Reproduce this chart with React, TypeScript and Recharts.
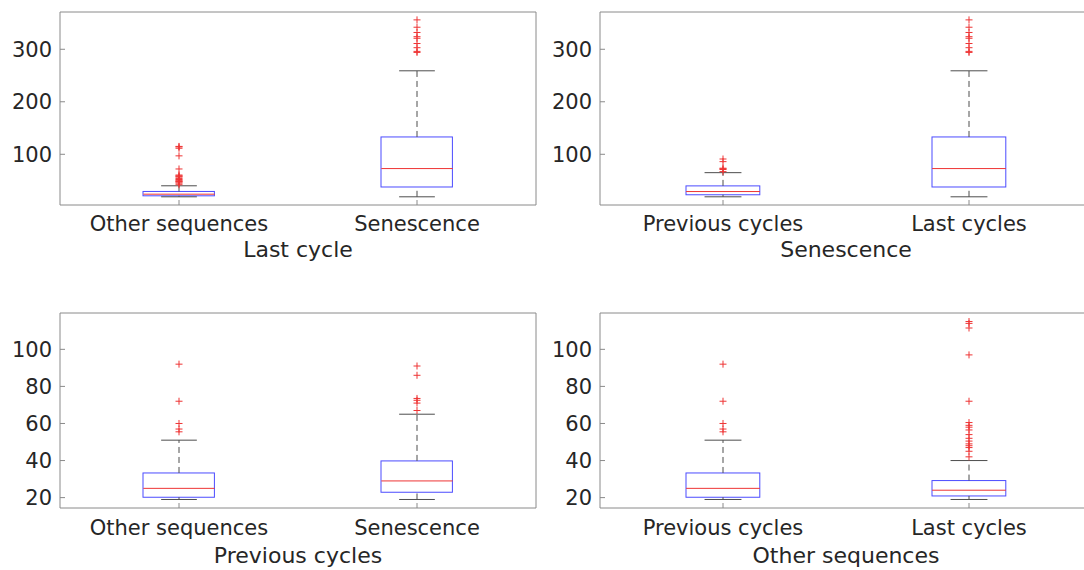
import React from 'react';
import { ComposedChart, Bar, Scatter, XAxis, YAxis, ReferenceLine } from 'recharts';

// box stats: [lower whisker, q1, median, q3, upper whisker]
const otherSeqLastStats = [19, 20.9, 24, 29.2, 40];
const otherSeqLastOutliers = [42, 45, 47, 48, 49, 50.5, 52, 54, 56.5, 58, 59, 60.5, 72, 97, 111.5, 114, 115];
const senescenceLastStats = [19, 37.7, 72.8, 133, 259];
const senescenceLastOutliers = [294, 296, 303, 311, 321, 324, 332, 342, 356];
const senescencePrevStats = [19, 22.9, 29, 39.8, 65];
const senescencePrevOutliers = [67, 71, 72.5, 73.5, 86, 91];
const otherSeqPrevStats = [19, 20.2, 25, 33.3, 51];
const otherSeqPrevOutliers = [55.5, 57, 60, 72, 92];

const byStageGroups = ['Other sequences', 'Senescence'];
const byCycleGroups = ['Previous cycles', 'Last cycles'];

const topTicks = [100, 200, 300];
const bottomTicks = [20, 40, 60, 80, 100];
const topDomain = [3.4, 371];
const bottomDomain = [14.4, 119.6];

const FONT = '"DejaVu Sans", sans-serif';
const TEXT = '#262626';
const AXIS = '#8a8a8a';
const BLUE = '#4b4bff';
const RED = '#ee3434';
const WHISKER = '#4d4d4d';

interface PanelProps {
  title: string;
  groups: string[];
  stats: number[][];
  outliers: number[][];
  domain: number[];
  ticks: number[];
  left: number;
  top: number;
  width: number;
  height: number;
  marginTop: number;
  marginRight: number;
  axisHeight: number;
  tickGap: number;
  titleOffset: number;
}

const BoxPanel: React.FC<PanelProps> = (p) => {
  const plotWidth = p.width - 60 - 1 - p.marginRight;
  const boxW = 0.3 * (plotWidth / 2);
  const capW = boxW / 2;

  const rows = p.stats.map((s, i) => ({ x: i + 1, lo: s[0], box: [s[1], s[3]], med: s[2], hi: s[4] }));
  const outlierPts = p.outliers.flatMap((arr, i) => arr.map((v) => ({ x: i + 1, v })));

  const hLine = (w: number, color: string) => (props: any) => (
    <line x1={props.cx - w / 2} x2={props.cx + w / 2} y1={props.cy} y2={props.cy} stroke={color} strokeWidth={1} />
  );

  return (
    <div style={{ position: 'absolute', left: p.left, top: p.top }}>
      <ComposedChart
        width={p.width}
        height={p.height}
        data={rows}
        margin={{ top: p.marginTop, right: p.marginRight, bottom: 0, left: 0 }}
      >
        <XAxis
          type="number"
          dataKey="x"
          domain={[0.5, 2.5]}
          ticks={[1, 2]}
          interval={0}
          allowDataOverflow
          tickFormatter={(v: number) => p.groups[v - 1]}
          height={p.axisHeight}
          tickSize={-5}
          tickMargin={p.tickGap}
          stroke={AXIS}
          tick={{ fill: TEXT, fontSize: 21, fontFamily: FONT }}
          label={{ value: p.title, position: 'insideBottom', offset: p.titleOffset, fill: TEXT, fontSize: 22, fontFamily: FONT }}
        />
        <XAxis
          xAxisId="top"
          orientation="top"
          type="number"
          domain={[0.5, 2.5]}
          ticks={[1, 2]}
          allowDataOverflow
          height={1}
          tick={false}
          tickSize={-5}
          stroke={AXIS}
        />
        <YAxis
          type="number"
          domain={p.domain}
          ticks={p.ticks}
          interval={0}
          allowDataOverflow
          width={60}
          tickSize={-5}
          tickMargin={13}
          stroke={AXIS}
          tick={{ fill: TEXT, fontSize: 21, fontFamily: FONT }}
        />
        <YAxis
          yAxisId="right"
          orientation="right"
          type="number"
          domain={p.domain}
          ticks={p.ticks}
          allowDataOverflow
          width={1}
          tick={false}
          tickSize={-5}
          stroke={AXIS}
        />

        {rows.map((r) => (
          <ReferenceLine
            key={'up' + r.x}
            segment={[{ x: r.x, y: r.box[1] }, { x: r.x, y: r.hi }]}
            stroke={WHISKER}
            strokeDasharray="6 4"
          />
        ))}
        {rows.map((r) => (
          <ReferenceLine
            key={'dn' + r.x}
            segment={[{ x: r.x, y: r.lo }, { x: r.x, y: r.box[0] }]}
            stroke={WHISKER}
            strokeDasharray="6 4"
          />
        ))}

        <Bar
          dataKey="box"
          barSize={boxW}
          isAnimationActive={false}
          shape={(b: any) => (
            <rect x={b.x} y={b.y} width={b.width} height={b.height} fill="none" stroke={BLUE} strokeWidth={1} />
          )}
        />
        <Scatter dataKey="hi" isAnimationActive={false} shape={hLine(capW, WHISKER)} />
        <Scatter dataKey="lo" isAnimationActive={false} shape={hLine(capW, WHISKER)} />
        <Scatter dataKey="med" isAnimationActive={false} shape={hLine(boxW, RED)} />
        <Scatter
          data={outlierPts}
          dataKey="v"
          isAnimationActive={false}
          shape={(o: any) => (
            <path
              d={`M${o.cx - 3.5},${o.cy}H${o.cx + 3.5}M${o.cx},${o.cy - 3.5}V${o.cy + 3.5}`}
              stroke={RED}
              strokeWidth={1}
              fill="none"
            />
          )}
        />
      </ComposedChart>
    </div>
  );
};

export default function App() {
  return (
    <div
      style={{
        position: 'absolute',
        left: 0,
        top: 0,
        width: 1084,
        height: 570,
        overflow: 'hidden',
        background: '#fff',
        fontFamily: FONT,
      }}
    >
      <BoxPanel
        title="Last cycle"
        groups={byStageGroups}
        stats={[otherSeqLastStats, senescenceLastStats]}
        outliers={[otherSeqLastOutliers, senescenceLastOutliers]}
        domain={topDomain}
        ticks={topTicks}
        left={0}
        top={0}
        width={542}
        height={270}
        marginTop={11}
        marginRight={5}
        axisHeight={65}
        tickGap={16}
        titleOffset={13}
      />
      <BoxPanel
        title="Senescence"
        groups={byCycleGroups}
        stats={[senescencePrevStats, senescenceLastStats]}
        outliers={[senescencePrevOutliers, senescenceLastOutliers]}
        domain={topDomain}
        ticks={topTicks}
        left={540}
        top={0}
        width={560}
        height={270}
        marginTop={11}
        marginRight={7}
        axisHeight={65}
        tickGap={16}
        titleOffset={13}
      />
      <BoxPanel
        title="Previous cycles"
        groups={byStageGroups}
        stats={[otherSeqPrevStats, senescencePrevStats]}
        outliers={[otherSeqPrevOutliers, senescencePrevOutliers]}
        domain={bottomDomain}
        ticks={bottomTicks}
        left={0}
        top={290}
        width={542}
        height={280}
        marginTop={22}
        marginRight={5}
        axisHeight={62}
        tickGap={17}
        titleOffset={7}
      />
      <BoxPanel
        title="Other sequences"
        groups={byCycleGroups}
        stats={[otherSeqPrevStats, otherSeqLastStats]}
        outliers={[otherSeqPrevOutliers, otherSeqLastOutliers]}
        domain={bottomDomain}
        ticks={bottomTicks}
        left={540}
        top={290}
        width={560}
        height={280}
        marginTop={22}
        marginRight={7}
        axisHeight={62}
        tickGap={17}
        titleOffset={7}
      />
    </div>
  );
}
